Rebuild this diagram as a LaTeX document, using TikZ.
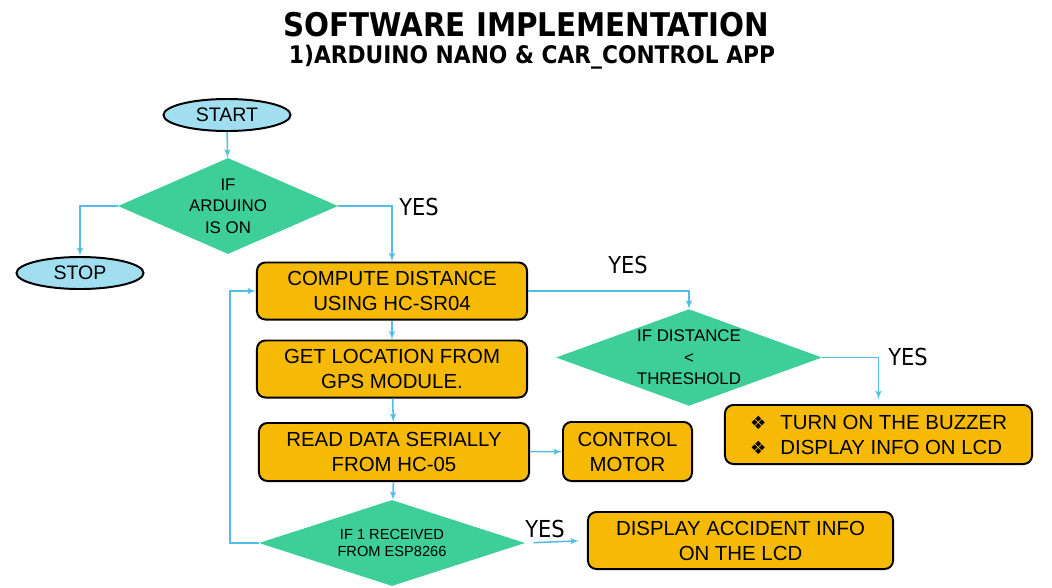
\documentclass[tikz,border=0pt]{standalone}
\usepackage{fontspec}
\setmainfont{Liberation Sans}
\newfontfamily\headfont{DejaVu Sans Condensed}
\newfontfamily\symfont{DejaVu Sans}
\usetikzlibrary{shapes,arrows}
\definecolor{boxorange}{RGB}{246,186,6}
\definecolor{dgreen}{RGB}{62,206,152}
\definecolor{ellblue}{RGB}{160,222,240}
\definecolor{linkblue}{RGB}{82,190,230}
\tikzstyle{block} = [rectangle, draw=black, line width=1.4pt, rounded corners=6pt, fill=boxorange, text centered, align=center, inner sep=0pt, minimum width=6.75cm, minimum height=1.425cm, font=\fontsize{14.5}{17.8}\selectfont]
\tikzstyle{cond} = [diamond, fill=dgreen, align=center, inner sep=0pt, aspect=2.5, font=\fontsize{12}{15.3}\selectfont]
\tikzstyle{term} = [ellipse, draw=black, line width=1.4pt, fill=ellblue, inner sep=0pt, minimum width=3.175cm, minimum height=0.8cm, font=\fontsize{13.9}{16}\selectfont]
\tikzstyle{arr} = [-latex', color=linkblue, line width=1.1pt]
\tikzstyle{yes} = [font=\headfont\fontsize{16.6}{18}\selectfont]
\newcommand{\bul}{{\symfont\fontsize{13}{12}\selectfont ❖}\hspace{10pt}}

\begin{document}
\begin{tikzpicture}[x=0.025cm, y=-0.025cm]
    \useasboundingbox (0,0) rectangle (1052,587);
    \node[font=\headfont\bfseries\fontsize{23.2}{26}\selectfont] (title) at (526,25) {SOFTWARE IMPLEMENTATION};
    \node[font=\headfont\bfseries\fontsize{17.2}{18}\selectfont] (subtitle) at (532,57) {1)ARDUINO NANO \& CAR\_CONTROL APP};

    \node[term] (start) at (227,115) {START};
    \node[cond, minimum width=5.5cm, minimum height=2.4cm] (ifon) at (228,206) {IF\\ARDUINO\\IS ON};
    \node[term] (stop) at (80,273) {STOP};
    \node[block] (dist) at (392,291) {COMPUTE DISTANCE\\USING HC-SR04};
    \node[block] (gps) at (392,369) {GET LOCATION FROM\\GPS MODULE.};
    \node[block, minimum height=1.45cm] (serial) at (394,452) {READ DATA SERIALLY\\FROM HC-05};
    \node[block, minimum width=3.225cm, minimum height=1.475cm] (motor) at (627.5,451.5) {CONTROL\\MOTOR};
    \node[cond, minimum width=6.65cm, minimum height=2.15cm, font=\fontsize{10.4}{12}\selectfont] (ifrecv) at (392,543) {IF 1 RECEIVED\\FROM ESP8266};
    \node[block, minimum width=7.625cm] (accident) at (740.5,540.5) {DISPLAY ACCIDENT INFO\\ON THE LCD};
    \node[cond, minimum width=6.65cm, minimum height=2.125cm] (ifdist) at (689,357.5) {IF DISTANCE\\<\\THRESHOLD};
    \node[block, minimum width=7.675cm, minimum height=1.475cm, align=left] (buzz) at (878.5,434.5) {\bul TURN ON THE BUZZER\\\bul DISPLAY INFO ON LCD};

    \node[yes] (yes1) at (419,206.5) {YES};
    \node[yes] (yes2) at (628,265) {YES};
    \node[yes] (yes3) at (908,357) {YES};
    \node[yes] (yes4) at (545,529) {YES};
    \coordinate (back) at (230,543);

    \path[arr] (start) edge (ifon);
    \draw[arr] (ifon.west) -| (stop.north);
    \draw[arr] (ifon.east) -| (dist.north);
    \path[arr] (dist) edge (gps);
    \path[arr] (gps) edge (serial);
    \path[arr] (serial) edge (motor);
    \path[arr] (serial) edge (ifrecv);
    \draw[arr] (ifrecv.west) -- (back) |- (dist.west);
    \draw[arr, shorten <=0.2cm, shorten >=0.2cm] (ifrecv.east) -- (accident.west);
    \draw[arr] (dist.east) -| (ifdist.north);
    \draw[arr, shorten >=0.12cm] (ifdist.east) -| (buzz.north);
 \end{tikzpicture}
\end{document}
